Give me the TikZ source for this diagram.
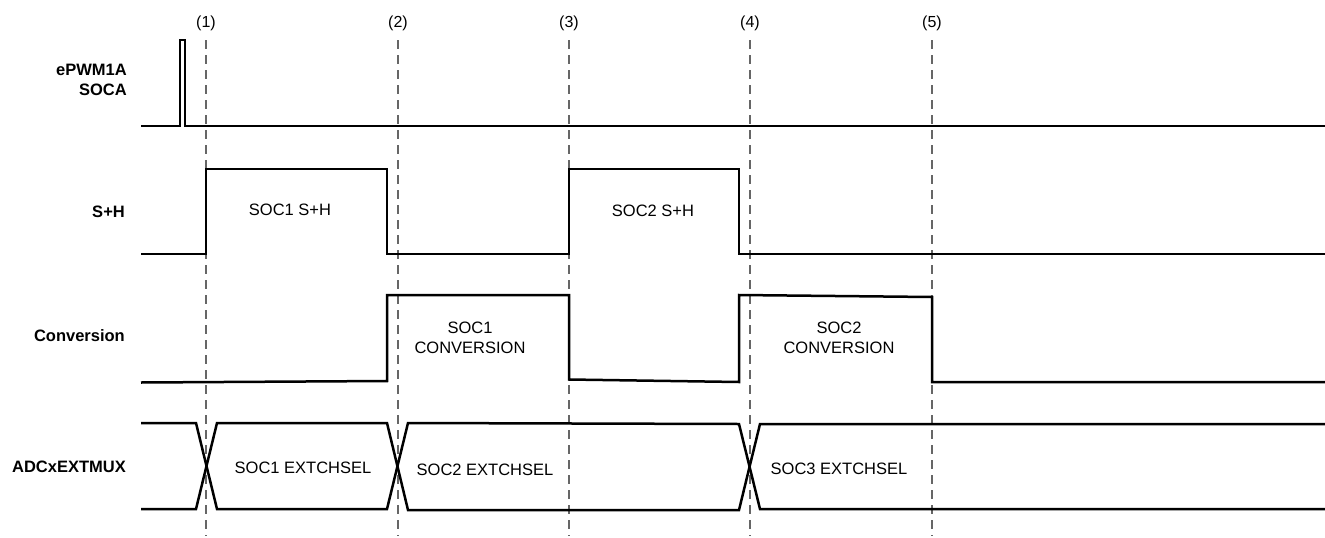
\documentclass[tikz,border=0pt]{standalone}
\usepackage{fontspec}
\setmainfont{Liberation Sans}
\begin{document}
\begin{tikzpicture}[x=1pt,y=-1pt,
  sig/.style={line width=2.5pt,line join=miter,black},
  guide/.style={line width=1.3pt,gray!80!black,dash pattern=on 9pt off 6pt},
  siglabel/.style={font=\fontsize{16.5}{20}\selectfont\bfseries,anchor=east,align=right,inner sep=0pt},
  txt/.style={font=\fontsize{16.5}{19.5}\selectfont,align=center,inner sep=0pt},
  num/.style={font=\fontsize{16}{18}\selectfont,inner sep=0pt}]
\useasboundingbox (0,0) rectangle (1325,538);
% guide lines and numbers
\foreach \x/\n in {206/1,398/2,569/3,750/4,932/5}{
  \node[num] (n\n) at (\x,23) {(\n)};
  \coordinate (gt\n) at (\x,40);
  \coordinate (gb\n) at (\x,536);
  \draw[guide] (gt\n) -- (gb\n);
}
% labels
\node[siglabel] (lpwm) at (127,80) {ePWM1A\\SOCA};
\node[siglabel] (lsh) at (125,212) {S+H};
\node[siglabel] (lconv) at (125,336) {Conversion};
\node[siglabel] (lmux) at (126,467) {ADCxEXTMUX};
% ePWM1A SOCA
\draw[sig] (141,126) -- (180,126) -- (180,40) -- (185,40) -- (185,126) -- (1325,126);
% S+H
\draw[sig] (141,254) -- (206,254) -- (206,169) -- (387,169) -- (387,254) -- (569,254) -- (569,169) -- (739,169) -- (739,254) -- (1325,254);
\node[txt] (sh1) at (290,210) {SOC1 S+H};
\node[txt] (sh2) at (653,211) {SOC2 S+H};
% Conversion
\draw[sig] (141,382.5) -- (387,381) -- (387,295) -- (569,295) -- (569,379.5) -- (739,382) -- (739,295) -- (932,297) -- (932,382) -- (1325,382);
\node[txt] (cv1) at (470,338) {SOC1\\CONVERSION};
\node[txt] (cv2) at (839,338) {SOC2\\CONVERSION};
% ADCxEXTMUX
\draw[sig] (141,423) -- (196,423) -- (217,509) -- (387,509) -- (408,423) -- (739,424) -- (760,509) -- (1325,509);
\draw[sig] (141,509) -- (196,509) -- (217,423) -- (387,423) -- (408,510) -- (739,510) -- (760,424) -- (1325,424);
\node[txt] (mx1) at (303,468) {SOC1 EXTCHSEL};
\node[txt] (mx2) at (485,470) {SOC2 EXTCHSEL};
\node[txt] (mx3) at (839,469) {SOC3 EXTCHSEL};
\end{tikzpicture}
\end{document}
